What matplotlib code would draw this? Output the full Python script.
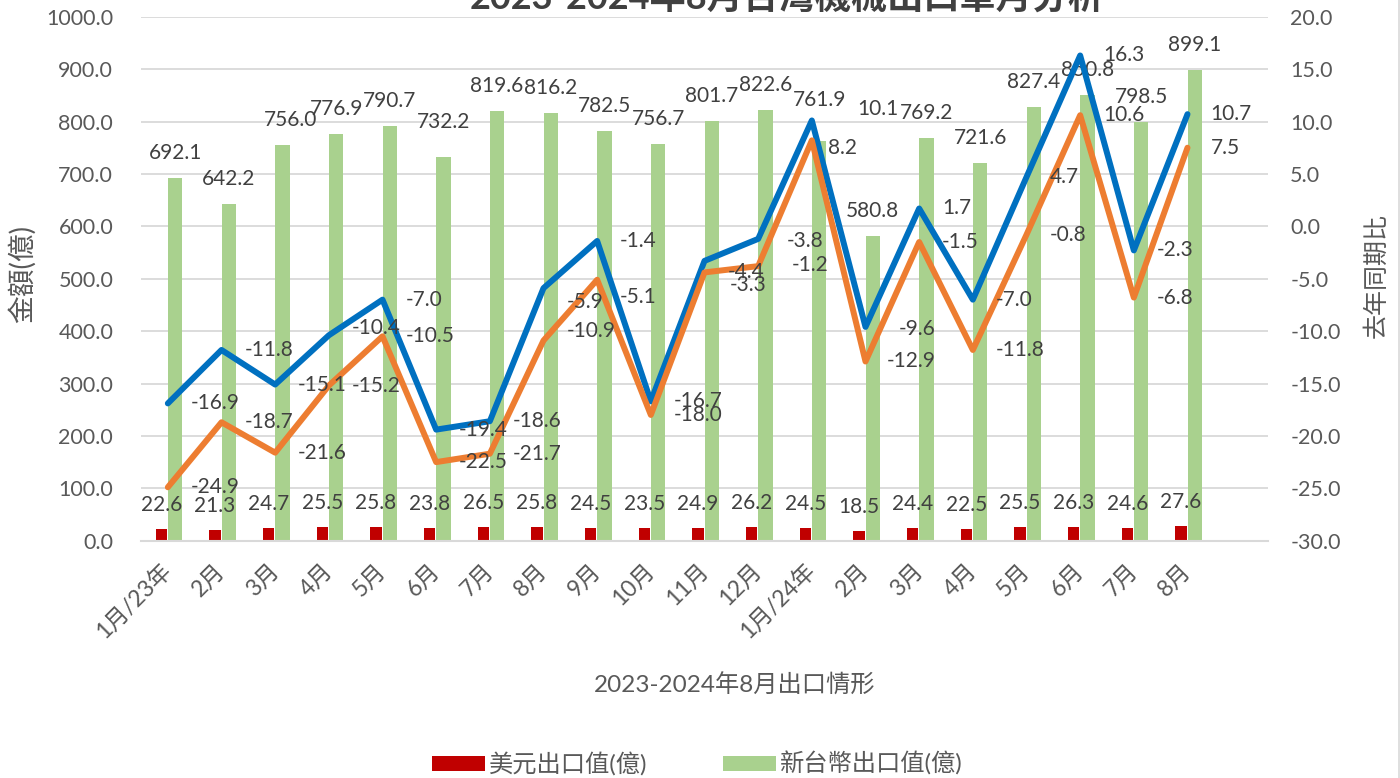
import matplotlib
matplotlib.use('Agg')
import matplotlib.pyplot as plt
import numpy as np
from matplotlib.patches import Patch
from matplotlib.lines import Line2D

plt.rcParams['font.family'] = ['Lato', 'Noto Sans CJK TC', 'DejaVu Sans']

# ---------------- data ----------------
categories = ['1月/23年', '2月', '3月', '4月', '5月', '6月', '7月', '8月', '9月', '10月',
              '11月', '12月', '1月/24年', '2月', '3月', '4月', '5月', '6月', '7月', '8月']
usd_export = [22.6, 21.3, 24.7, 25.5, 25.8, 23.8, 26.5, 25.8, 24.5, 23.5,
              24.9, 26.2, 24.5, 18.5, 24.4, 22.5, 25.5, 26.3, 24.6, 27.6]
ntd_export = [692.1, 642.2, 756.0, 776.9, 790.7, 732.2, 819.6, 816.2, 782.5, 756.7,
              801.7, 822.6, 761.9, 580.8, 769.2, 721.6, 827.4, 850.8, 798.5, 899.1]
ntd_yoy = [-16.9, -11.8, -15.1, -10.4, -7.0, -19.4, -18.6, -5.9, -1.4, -16.7,
           -3.3, -1.2, 10.1, -9.6, 1.7, -7.0, 4.7, 16.3, -2.3, 10.7]
usd_yoy = [-24.9, -18.7, -21.6, -15.2, -10.5, -22.5, -21.7, -10.9, -5.1, -18.0,
           -4.4, -3.8, 8.2, -12.9, -1.5, -11.8, -0.8, 10.6, -6.8, 7.5]

title = '2023-2024年8月台灣機械出口單月分析'
xlabel = '2023-2024年8月出口情形'
ylabel_left = '金額(億)'
ylabel_right = '去年同期比'
legend_labels = ['美元出口值(億)', '新台幣出口值(億)']

# ---------------- styles ----------------
RED = '#C00000'
GREEN = '#A9D18E'
BLUE = '#0070C0'
ORANGE = '#ED7D31'
GRID = '#D9D9D9'
TICK = '#595959'
LABEL = '#404040'

W, H = 1400, 778
fig = plt.figure(figsize=(W / 100, H / 100), dpi=100)
x0, x1, ytop, ybot = 141, 1268, 16.7, 540.7
ax = fig.add_axes([x0 / W, 1 - ybot / H, (x1 - x0) / W, (ybot - ytop) / H])
ax2 = ax.twinx()

x = np.arange(len(categories))

# bars
ax.bar(x - 0.12, usd_export, width=0.21, color=RED, zorder=2)
ax.bar(x + 0.135, ntd_export, width=0.27, color=GREEN, zorder=2)

ax.set_xlim(-0.5, len(categories) + 0.5)
ax.set_ylim(0, 1000)
ax.set_yticks(np.arange(0, 1001, 100))
ax.set_yticklabels([f'{v:.1f}' for v in np.arange(0, 1001, 100)])
ax.yaxis.grid(True, color=GRID, linewidth=1.3, zorder=0)
ax.set_axisbelow(True)
for s in ['top', 'left', 'right']:
    ax.spines[s].set_visible(False)
ax.spines['bottom'].set_color(GRID)
ax.spines['bottom'].set_linewidth(1.5)
ax.tick_params(axis='y', length=0, pad=20, labelsize=15.5, labelcolor=TICK)
ax.tick_params(axis='x', length=0, pad=19, labelsize=16.5, labelcolor=TICK)
ax.set_xticks(x)
ax.set_xticklabels(categories, rotation=45, ha='right', va='center',
                   rotation_mode='anchor')

# lines
ax2.plot(x, ntd_yoy, color=BLUE, lw=4.3, solid_joinstyle='round',
         solid_capstyle='round', zorder=3)
ax2.plot(x, usd_yoy, color=ORANGE, lw=4.3, solid_joinstyle='round',
         solid_capstyle='round', zorder=4)
ax2.set_ylim(-30, 20)
ax2.set_yticks(np.arange(-30, 21, 5))
ax2.set_yticklabels([f'{v:.1f}' for v in np.arange(-30, 21, 5)])
for s in ['top', 'left', 'right', 'bottom']:
    ax2.spines[s].set_visible(False)
ax2.tick_params(axis='y', length=0, pad=16, labelsize=15.5, labelcolor=TICK)

# data labels: bars (offsets in pixels, image-style: +dy means lower)
bar_dx = {2: 8}
bar_dy = {5: -10, 12: -16}
for i, v in enumerate(ntd_export):
    ax.annotate(f'{v:.1f}', (x[i] + 0.135, v), xytext=(bar_dx.get(i, 0), 25 - bar_dy.get(i, 0)),
                textcoords='offset pixels', ha='center', va='center',
                fontsize=15, color=LABEL, zorder=6, annotation_clip=False)
for i, v in enumerate(usd_export):
    ax.annotate(f'{v:.1f}', (x[i] - 0.12, v), xytext=(0, 24),
                textcoords='offset pixels', ha='center', va='center',
                fontsize=15, color=LABEL, zorder=6)

blue_off = {3: (23, -7), 7: (23, 14), 10: (25, 24), 11: (34, 26), 12: (45, -11), 13: (33, 2)}
orange_off = {7: (23, -10), 8: (23, 17), 11: (29, -25), 12: (16, 8), 13: (21, 0)}
for series, offs in ((ntd_yoy, blue_off), (usd_yoy, orange_off)):
    for i, v in enumerate(series):
        dx, dy = offs.get(i, (23, 0))
        ax2.annotate(f'{v:.1f}', (x[i], v), xytext=(dx, -dy),
                     textcoords='offset pixels', ha='left', va='center',
                     fontsize=15, color=LABEL, zorder=7)

# axis titles
fig.text(735 / W, 1 - 685 / H, xlabel, ha='center', va='center', fontsize=17.5, color=TICK)
fig.text(22 / W, 1 - 274 / H, ylabel_left, ha='center', va='center', rotation=90,
         fontsize=20, color=TICK)
fig.text(1376 / W, 1 - 275 / H, ylabel_right, ha='center', va='center', rotation=90,
         fontsize=18, color=TICK)

# title (partly cut at top)
fig.text(787 / W, 1 - 9 / H, title, ha='center', va='baseline', fontsize=26,
         fontweight='bold', color='#404040')

# legend
handles = [Patch(facecolor=RED, edgecolor='none'), Patch(facecolor=GREEN, edgecolor='none')]
fig.legend(handles, legend_labels, loc='center', bbox_to_anchor=(697 / W, 1 - 764 / H),
           ncol=2, frameon=False, fontsize=17.5, labelcolor=TICK,
           handlelength=2.2, handleheight=0.55, handletextpad=0.15, columnspacing=3.1)

# chart border at right edge
fig.add_artist(Line2D([1 - 1.5 / W, 1 - 1.5 / W], [0, 1], transform=fig.transFigure,
                      color='#D9D9D9', lw=1.2))

fig.savefig('out.png', dpi=100)
